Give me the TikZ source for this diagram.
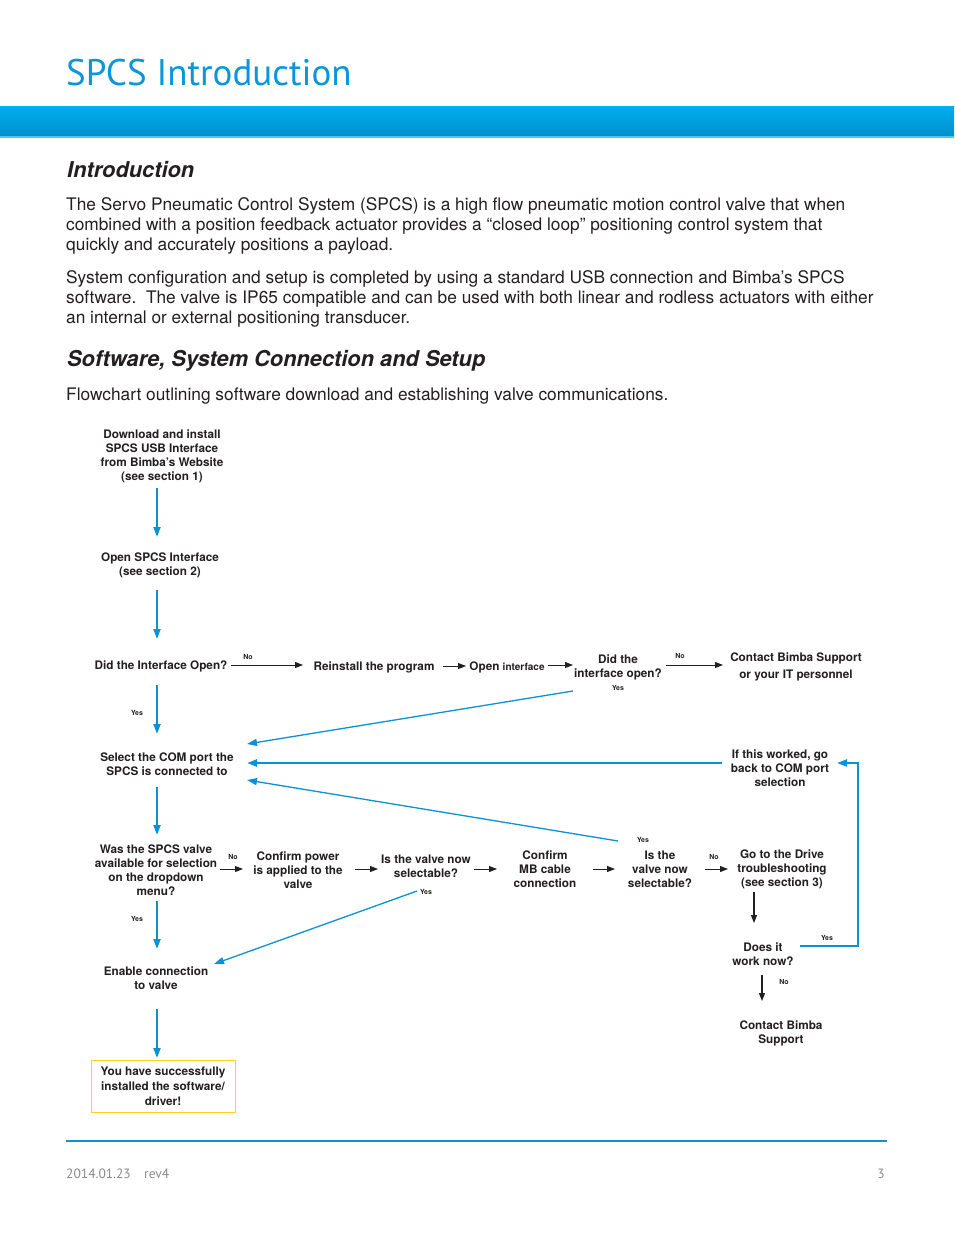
\documentclass[tikz,border=0pt]{standalone}
\usepackage{fontspec}
\setmainfont{TeX Gyre Heros}
\newfontfamily\titlefont{PT Sans}
\usetikzlibrary{arrows.meta}
\definecolor{spblue}{HTML}{0B92D6}
\definecolor{titleblue}{HTML}{0A96D8}
\definecolor{bandtop}{HTML}{00AEEF}
\definecolor{bandbot}{HTML}{008FCB}
\definecolor{txt}{HTML}{231F20}
\definecolor{foot}{HTML}{8A8A8A}
\definecolor{boxyellow}{HTML}{FFD21F}
\begin{document}
\begin{tikzpicture}[x=1pt,y=-1pt,
  lbl/.style={font=\bfseries\fontsize{11.75}{14}\selectfont, align=center, inner sep=0pt, text=txt},
  tinylbl/.style={font=\bfseries\fontsize{7}{8}\selectfont, inner sep=0pt, text=txt},
  bodyline/.style={anchor=base west, inner sep=0pt, text=txt, font=\fontsize{17.3}{20}\selectfont},
  heading/.style={anchor=base west, inner sep=0pt, text=txt, font=\bfseries\itshape\fontsize{21.8}{24}\selectfont},
  barr/.style={-{Triangle[length=8pt,width=6pt]}, line width=0.9pt, txt},
  blarr/.style={-{Triangle[length=10pt,width=7pt]}, line width=2pt, spblue},
  tblarr/.style={-{Triangle[length=10pt,width=7pt]}, line width=1.3pt, spblue},
  footlbl/.style={anchor=base west, inner sep=0pt, text=foot, font=\titlefont\fontsize{13.5}{15}\selectfont}
]
\useasboundingbox (0,0) rectangle (954,1235);
\fill[white] (0,0) rectangle (954,1235);
% header
\node[anchor=base west, inner sep=0pt, text=titleblue, font=\titlefont\fontsize{37}{40}\selectfont] (title) at (66,85) {SPCS Introduction};
\shade[top color=bandtop, bottom color=bandbot] (0,106) rectangle (954,137);
\fill[bandtop!70!white] (0,136.2) rectangle (954,137.5);
% intro
\node[heading] (h1) at (67,177) {Introduction};
\node[bodyline] (p1) at (66,210) {The Servo Pneumatic Control System (SPCS) is a high flow pneumatic motion control valve that when};
\node[bodyline] (p2) at (66,230) {combined with a position feedback actuator provides a “closed loop” positioning control system that};
\node[bodyline] (p3) at (66,250) {quickly and accurately positions a payload.};
\node[bodyline] (p4) at (66,283) {System configuration and setup is completed by using a standard USB connection and Bimba’s SPCS};
\node[bodyline] (p5) at (66,303) {software.\ \ The valve is IP65 compatible and can be used with both linear and rodless actuators with either};
\node[bodyline] (p6) at (66,323) {an internal or external positioning transducer.};
\node[heading] (h2) at (67,366) {Software, System Connection and Setup};
\node[bodyline] (p7) at (66,400) {Flowchart outlining software download and establishing valve communications.};
% flowchart nodes
\node[lbl] (n1) at (162,456) {Download and install\\SPCS USB Interface\\from Bimba's Website\\(see section 1)};
\node[lbl] (n2) at (160,565) {Open SPCS Interface\\(see section 2)};
\node[lbl] (n3) at (161,666) {Did the Interface Open?};
\node[lbl] (n4) at (374,667) {Reinstall the program};
\node[lbl] (n5) at (507,667) {Open {\fontsize{10}{12}\selectfont interface}};
\node[lbl] (n6) at (618,667) {Did the\\interface open?};
\node[lbl, font=\bfseries\fontsize{11.75}{17}\selectfont] (n7) at (796,667) {Contact Bimba Support\\or your IT personnel};
\node[lbl] (n8) at (167,764) {Select the COM port the\\SPCS is connected to};
\node[lbl] (n9) at (780,768) {If this worked, go\\back to COM port\\selection};
\node[lbl] (n10) at (156,870) {Was the SPCS valve\\available for selection\\on the dropdown\\menu?};
\node[lbl] (n11) at (298,870) {Confirm power\\is applied to the\\valve};
\node[lbl] (n12) at (426,866) {Is the valve now\\selectable?};
\node[lbl] (n13) at (545,869) {Confirm\\MB cable\\connection};
\node[lbl] (n14) at (660,869) {Is the\\valve now\\selectable?};
\node[lbl] (n15) at (782,869) {Go to the Drive\\troubleshooting\\(see section 3)};
\node[lbl] (n16) at (763,954) {Does it\\work now?};
\node[lbl] (n17) at (781,1033) {Contact Bimba\\Support};
\node[lbl] (n18) at (156,978) {Enable connection\\to valve};
\node[lbl, draw=boxyellow, line width=0.9pt, minimum width=144pt, minimum height=52pt, font=\bfseries\fontsize{11.75}{15}\selectfont] (n19) at (163,1086) {You have successfully\\installed the software/\\driver!};
% small labels
\node[tinylbl] (l1) at (248,657) {No};
\node[tinylbl] (l2) at (680,656) {No};
\node[tinylbl] (l3) at (618,688) {Yes};
\node[tinylbl] (l4) at (137,713) {Yes};
\node[tinylbl] (l5) at (643,840) {Yes};
\node[tinylbl] (l6) at (233,857) {No};
\node[tinylbl] (l7) at (426,892) {Yes};
\node[tinylbl] (l8) at (714,857) {No};
\node[tinylbl] (l9) at (827,938) {Yes};
\node[tinylbl] (l10) at (784,982) {No};
\node[tinylbl] (l11) at (137,919) {Yes};
% connector coordinates
\coordinate (a1s) at (157,488); \coordinate (a1e) at (157,537);
\coordinate (a2s) at (157,590); \coordinate (a2e) at (157,639);
\coordinate (a3s) at (231,665); \coordinate (a3e) at (303,665);
\coordinate (a4s) at (443,666); \coordinate (a4e) at (466,666);
\coordinate (a5s) at (548,665); \coordinate (a5e) at (573,665);
\coordinate (a6s) at (666,665); \coordinate (a6e) at (723,665);
\coordinate (a7s) at (573,691); \coordinate (a7e) at (247,744);
\coordinate (a8s) at (157,685); \coordinate (a8e) at (157,734);
\coordinate (a9s) at (722,763); \coordinate (a9e) at (247,763);
\coordinate (a10s) at (618,841); \coordinate (a10e) at (247,780);
\coordinate (a11s) at (157,787); \coordinate (a11e) at (157,835);
\coordinate (a12s) at (220,869); \coordinate (a12e) at (243,869);
\coordinate (a13s) at (355,869); \coordinate (a13e) at (378,869);
\coordinate (a14s) at (474,869); \coordinate (a14e) at (497,869);
\coordinate (a15s) at (593,869); \coordinate (a15e) at (615,869);
\coordinate (a16s) at (705,869); \coordinate (a16e) at (728,869);
\coordinate (a17s) at (754,892); \coordinate (a17e) at (754,923);
\coordinate (a18s) at (762,975); \coordinate (a18e) at (762,1001);
\coordinate (a19s) at (417,891); \coordinate (a19e) at (214,964);
\coordinate (a20s) at (157,901); \coordinate (a20e) at (157,949);
\coordinate (a21s) at (157,1009); \coordinate (a21e) at (157,1058);
\coordinate (a22s) at (800,946); \coordinate (a22c) at (858,946); \coordinate (a22d) at (858,763); \coordinate (a22e) at (837,763);
% connectors
\draw[blarr] (a1s) -- (a1e);
\draw[blarr] (a2s) -- (a2e);
\draw[barr] (a3s) -- (a3e);
\draw[barr] (a4s) -- (a4e);
\draw[barr] (a5s) -- (a5e);
\draw[barr] (a6s) -- (a6e);
\draw[tblarr] (a7s) -- (a7e);
\draw[blarr] (a8s) -- (a8e);
\draw[blarr, line width=2.4pt] (a9s) -- (a9e);
\draw[tblarr] (a10s) -- (a10e);
\draw[blarr] (a11s) -- (a11e);
\draw[barr] (a12s) -- (a12e);
\draw[barr] (a13s) -- (a13e);
\draw[barr] (a14s) -- (a14e);
\draw[barr] (a15s) -- (a15e);
\draw[barr] (a16s) -- (a16e);
\draw[barr, line width=1.2pt] (a17s) -- (a17e);
\draw[barr, line width=1.2pt] (a18s) -- (a18e);
\draw[tblarr] (a19s) -- (a19e);
\draw[blarr] (a20s) -- (a20e);
\draw[blarr] (a21s) -- (a21e);
\draw[blarr] (a22s) -- (a22c) -- (a22d) -- (a22e);
% footer
\draw[spblue, line width=1.2pt] (66,1141) coordinate (f1) -- (887,1141) coordinate (f2);
\node[footlbl] (date) at (66,1178) {2014.01.23};
\node[footlbl] (rev) at (144,1178) {rev4};
\node[footlbl, anchor=base east] (pg) at (885,1178) {3};
\end{tikzpicture}
\end{document}
